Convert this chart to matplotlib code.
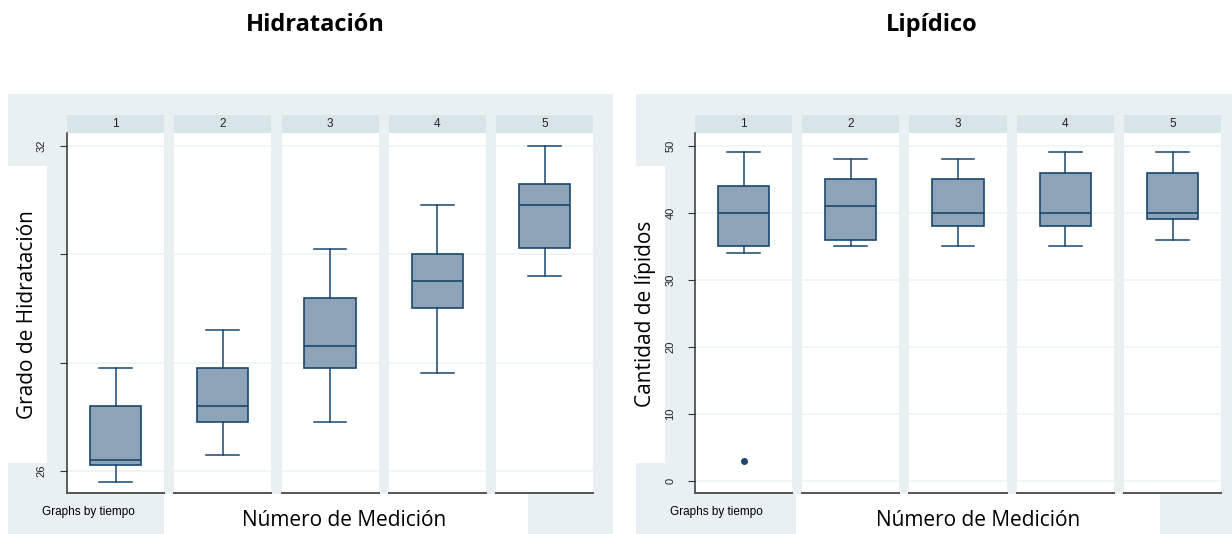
import matplotlib
matplotlib.use("Agg")
import matplotlib.pyplot as plt
from matplotlib.patches import Rectangle

# Hidratación: box stats per tiempo (1..5)
hid_whislo = [25.80, 26.29, 26.90, 27.80, 29.60]
hid_q1 = [26.10, 26.90, 27.90, 29.00, 30.11]
hid_med = [26.20, 27.20, 28.30, 29.51, 30.91]
hid_q3 = [27.20, 27.89, 29.20, 30.00, 31.30]
hid_whishi = [27.89, 28.60, 30.10, 30.91, 32.00]
hid_fliers = [[], [], [], [], []]
hid_ticks = [26, 28, 30, 32]

# Lipídico: box stats per tiempo (1..5)
lip_whislo = [34, 35, 35, 35, 36]
lip_q1 = [35, 36, 38, 38, 39]
lip_med = [40, 41, 40, 40, 40]
lip_q3 = [44, 45, 45, 46, 46]
lip_whishi = [49, 48, 48, 49, 49]
lip_fliers = [[3], [], [], [], []]
lip_ticks = [0, 10, 20, 30, 40, 50]

tiempos = ["1", "2", "3", "4", "5"]

W, H = 1232, 534
NAVY = "#1a476f"
BOXFILL = "#8ea3b7"
REGION = "#e8f0f2"
STRIP = "#d8e4ea"
GRID = "#edf3f4"

fig = plt.figure(figsize=(W / 100, H / 100), dpi=100)


def frect(x0, y0, x1, y1):
    return [x0 / W, 1 - y1 / H, (x1 - x0) / W, (y1 - y0) / H]


def block(x0, y0, x1, y1, color, z):
    r = frect(x0, y0, x1, y1)
    fig.patches.append(Rectangle((r[0], r[1]), r[2], r[3], transform=fig.transFigure,
                                 facecolor=color, edgecolor="none", zorder=z))


def panel(x_start, ylim, ticks, whislo, q1, med, q3, whishi, fliers, tick_pad):
    for i, lab in enumerate(tiempos):
        x0 = x_start + i * 107.25
        x1 = x0 + 97

        strip = fig.add_axes(frect(x0, 115, x1, 133))
        strip.set_facecolor(STRIP)
        strip.set_xticks([])
        strip.set_yticks([])
        for s in strip.spines.values():
            s.set_visible(False)
        strip.text(0.5, 0.5, lab, ha="center", va="center", fontsize=8.5,
                   family="Liberation Sans", color="#222222")

        ax = fig.add_axes(frect(x0, 133, x1, 493))
        ax.set_facecolor("white")
        stats = [{
            "whislo": whislo[i], "q1": q1[i], "med": med[i],
            "q3": q3[i], "whishi": whishi[i], "fliers": fliers[i],
        }]
        ax.bxp(stats, positions=[1], widths=0.53, capwidths=0.34, patch_artist=True,
               boxprops=dict(facecolor=BOXFILL, edgecolor=NAVY, linewidth=1.2),
               medianprops=dict(color=NAVY, linewidth=1.2),
               whiskerprops=dict(color=NAVY, linewidth=1.1),
               capprops=dict(color=NAVY, linewidth=1.1),
               flierprops=dict(marker="o", markersize=4, markerfacecolor=NAVY,
                               markeredgecolor=NAVY),
               manage_ticks=False)
        ax.set_xlim(0.5, 1.5)
        ax.set_ylim(*ylim)
        ax.set_xticks([])
        ax.set_yticks(ticks)
        for t in ticks:
            ax.axhline(t, color=GRID, linewidth=1.2, zorder=0)
        for side in ["top", "right"]:
            ax.spines[side].set_visible(False)
        ax.spines["bottom"].set_color("#555555")
        ax.spines["bottom"].set_linewidth(1.4)
        if i == 0:
            ax.spines["left"].set_color("#333333")
            ax.spines["left"].set_linewidth(1.1)
            ax.tick_params(axis="y", length=5, width=0.8, color="#333333",
                           labelsize=8, pad=tick_pad, labelcolor="#222222")
            for tl in ax.get_yticklabels():
                tl.set_rotation(90)
                tl.set_va("center")
                tl.set_family("Liberation Sans")
        else:
            ax.spines["left"].set_visible(False)
            ax.tick_params(axis="y", length=0, labelleft=False)


# graph regions
block(8, 94, 613, 534, REGION, -5)
block(636, 94, 1232, 534, REGION, -5)

panel(67, (25.59, 32.24), hid_ticks, hid_whislo, hid_q1, hid_med, hid_q3,
      hid_whishi, hid_fliers, 10)
panel(695, (-1.79, 51.9), lip_ticks, lip_whislo, lip_q1, lip_med, lip_q3,
      lip_whishi, lip_fliers, 9)

# white label areas
block(0, 166, 47, 463, "white", 5)
block(620, 166, 665, 463, "white", 5)
block(164, 494, 528, 534, "white", 5)
block(796, 494, 1160, 534, "white", 5)

fig.text(28 / W, 1 - 315 / H, "Grado de Hidratación", rotation=90, ha="center",
         va="center", fontsize=15, family="Open Sans", zorder=6)
fig.text(645 / W, 1 - 314 / H, "Cantidad de lípidos", rotation=90, ha="center",
         va="center", fontsize=15, family="Open Sans", zorder=6)
fig.text(344 / W, 1 - 520 / H, "Número de Medición", ha="center", va="center",
         fontsize=15, family="Open Sans", zorder=6)
fig.text(978 / W, 1 - 520 / H, "Número de Medición", ha="center", va="center",
         fontsize=15, family="Open Sans", zorder=6)
fig.text(42 / W, 1 - 512 / H, "Graphs by tiempo", ha="left", va="center",
         fontsize=8.5, family="Liberation Sans", zorder=6)
fig.text(670 / W, 1 - 512 / H, "Graphs by tiempo", ha="left", va="center",
         fontsize=8.5, family="Liberation Sans", zorder=6)

fig.text(315 / W, 1 - 25 / H, "Hidratación", ha="center", va="center",
         fontsize=17, fontweight="bold", family="Open Sans")
fig.text(932 / W, 1 - 25 / H, "Lipídico", ha="center", va="center",
         fontsize=17, fontweight="bold", family="Open Sans")

fig.savefig("out.png", dpi=100)
